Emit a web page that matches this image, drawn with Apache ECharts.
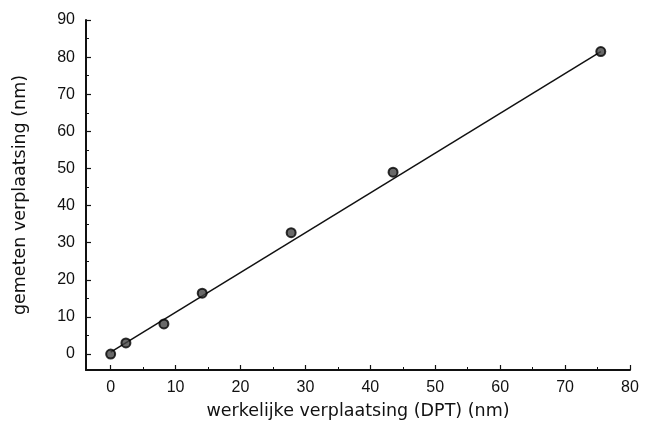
<!DOCTYPE html>
<html>
<head>
<meta charset="utf-8">
<script src="https://cdn.jsdelivr.net/npm/echarts@6/dist/echarts.min.js"></script>
<style>
  html, body { margin: 0; padding: 0; background: #fff; }
  #chart { width: 659px; height: 423px; }
</style>
</head>
<body>
<div id="chart"></div>
<script>
// gemeten punten (werkelijke, gemeten)
const actual = [0, 2.35, 8.2, 14.1, 27.8, 43.5, 75.5];
const measured = [0, 3.0, 8.1, 16.4, 32.7, 49.0, 81.5];
// rechte lijn door de punten
const fitX = [0, 75.5];
const fitY = [0.5, 81.5];
const xTicks = [0, 10, 20, 30, 40, 50, 60, 70, 80];
const yTicks = [0, 10, 20, 30, 40, 50, 60, 70, 80, 90];
const xMinor = [5, 15, 25, 35, 45, 55, 65, 75];
const yMinor = [5, 15, 25, 35, 45, 55, 65, 75, 85];

const font = 'Liberation Sans';
const titleFont = 'DejaVu Sans';

const points = actual.map((x, i) => [x, measured[i]]);
const fitLine = fitX.map((x, i) => [x, fitY[i]]);

let chart = echarts.init(document.getElementById('chart'));

const baseX = {
    type: 'value',
    min: -3.8,
    max: 80,
    position: 'bottom',
    splitLine: { show: false }
};
const baseY = {
    type: 'value',
    min: -4.3,
    max: 90,
    position: 'left',
    splitLine: { show: false }
};

let option = {
    animation: false,
    backgroundColor: '#fff',
    grid: {
        left: 86,
        right: 29,
        top: 20,
        bottom: 53,
        containLabel: false,
        outerBoundsMode: 'none'
    },
    xAxis: [
        Object.assign({}, baseX, {
            name: 'werkelijke verplaatsing (DPT) (nm)',
            nameLocation: 'middle',
            nameGap: 32,
            nameTextStyle: { fontFamily: titleFont, fontSize: 17.5, color: '#111' },
            axisLine: { show: true, onZero: false, lineStyle: { color: '#111', width: 2 } },
            axisTick: { show: true, inside: true, length: 5, customValues: xTicks, lineStyle: { color: '#111', width: 1.2 } },
            axisLabel: { customValues: xTicks, margin: 10, fontFamily: font, fontSize: 16, color: '#111' }
        }),
        Object.assign({}, baseX, {
            // kleine streepjes
            axisLine: { show: false, onZero: false },
            axisTick: { show: true, inside: true, length: 3, customValues: xMinor, lineStyle: { color: '#111', width: 1 } },
            axisLabel: { show: false }
        })
    ],
    yAxis: [
        Object.assign({}, baseY, {
            name: 'gemeten verplaatsing (nm)',
            nameLocation: 'middle',
            nameGap: 57,
            nameTextStyle: { fontFamily: titleFont, fontSize: 17.5, color: '#111' },
            axisLine: { show: true, onZero: false, lineStyle: { color: '#111', width: 2 } },
            axisTick: { show: true, inside: true, length: 5, customValues: yTicks, lineStyle: { color: '#111', width: 1.2 } },
            axisLabel: { customValues: yTicks, margin: 11, fontFamily: font, fontSize: 16, color: '#111' }
        }),
        Object.assign({}, baseY, {
            axisLine: { show: false, onZero: false },
            axisTick: { show: true, inside: true, length: 3, customValues: yMinor, lineStyle: { color: '#111', width: 1 } },
            axisLabel: { show: false }
        })
    ],
    series: [
        {
            type: 'line',
            data: fitLine,
            symbol: 'none',
            lineStyle: { color: '#111', width: 1.5 },
            z: 2
        },
        {
            type: 'scatter',
            data: points,
            symbol: 'circle',
            symbolSize: 9,
            itemStyle: { color: '#444', borderColor: '#000', borderWidth: 2 },
            z: 3
        }
    ]
};
chart.setOption(option);
</script>
</body>
</html>
